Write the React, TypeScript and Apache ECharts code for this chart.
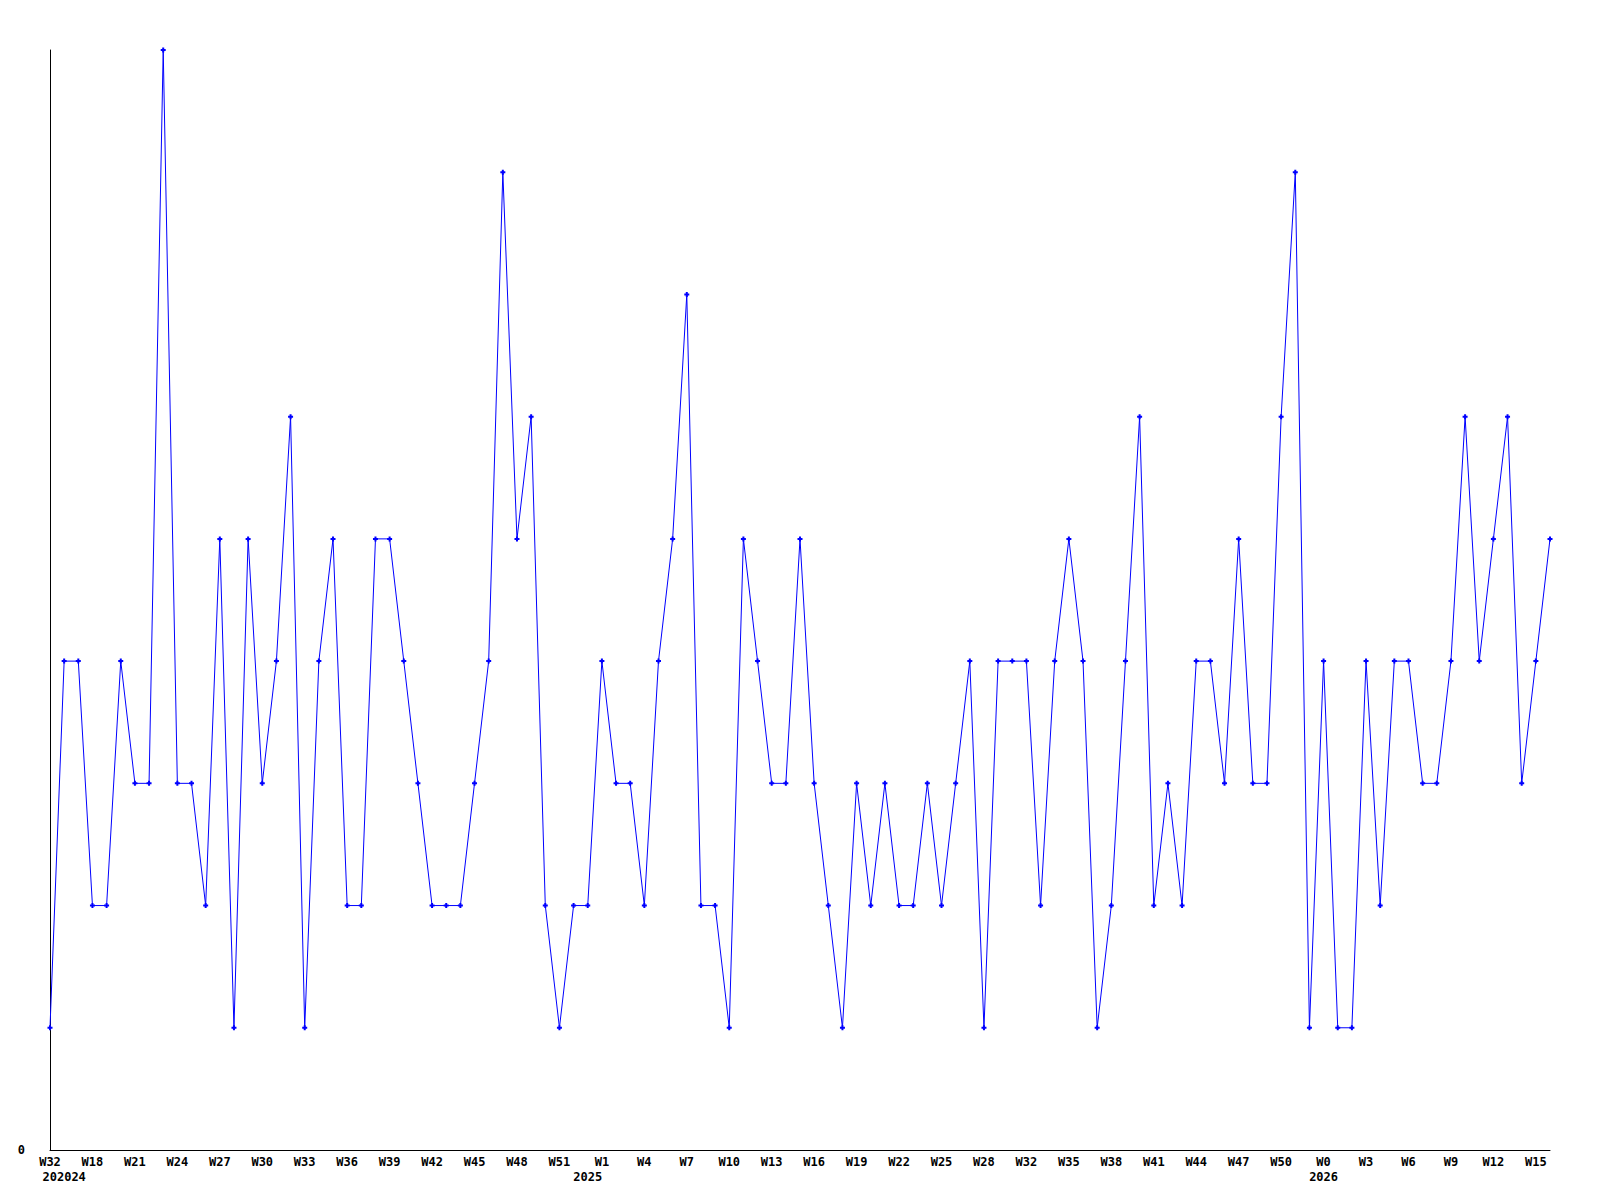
import React, { useEffect, useRef } from "react";
import * as echarts from "echarts";

const weekLabels: string[] = [
  "W32", "W16", "W17", "W18", "W19", "W20", "W21", "W22", "W23", "W24",
  "W25", "W26", "W27", "W28", "W29", "W30", "W31", "W32", "W33", "W34",
  "W35", "W36", "W37", "W38", "W39", "W40", "W41", "W42", "W43", "W44",
  "W45", "W46", "W47", "W48", "W49", "W50", "W51", "W52", "W0", "W1",
  "W2", "W3", "W4", "W5", "W6", "W7", "W8", "W9", "W10", "W11",
  "W12", "W13", "W14", "W15", "W16", "W17", "W18", "W19", "W20", "W21",
  "W22", "W23", "W24", "W25", "W26", "W27", "W28", "W30", "W31", "W32",
  "W33", "W34", "W35", "W36", "W37", "W38", "W39", "W40", "W41", "W42",
  "W43", "W44", "W45", "W46", "W47", "W48", "W49", "W50", "W51", "W52",
  "W0", "W1", "W2", "W3", "W4", "W5", "W6", "W7", "W8", "W9",
  "W10", "W11", "W12", "W13", "W14", "W15", "W16",
];

// year captions under the week labels, as printed in the source chart
const yearLabelIndex: number[] = [1, 38, 90];
const yearLabelText: string[] = ["202024", "2025", "2026"];

const values: number[] = [
  1, 4, 4, 2, 2, 4, 3, 3, 9, 3,
  3, 2, 5, 1, 5, 3, 4, 6, 1, 4,
  5, 2, 2, 5, 5, 4, 3, 2, 2, 2,
  3, 4, 8, 5, 6, 2, 1, 2, 2, 4,
  3, 3, 2, 4, 5, 7, 2, 2, 1, 5,
  4, 3, 3, 5, 3, 2, 1, 3, 2, 3,
  2, 2, 3, 2, 3, 4, 1, 4, 4, 4,
  2, 4, 5, 4, 1, 2, 4, 6, 2, 3,
  2, 4, 4, 3, 5, 3, 3, 6, 8, 1,
  4, 1, 1, 4, 2, 4, 4, 3, 3, 4,
  6, 4, 5, 6, 3, 4, 5,
];

const yMin = 0;
const yMax = 9;

export default function App() {
  const ref = useRef<HTMLDivElement>(null);
  useEffect(() => {
    if (!ref.current) return;
    const chart = echarts.init(ref.current, null, { renderer: "svg" });
    const font = "DejaVu Sans Mono";
    const labelBase = {
      color: "#000000",
      fontFamily: font,
      fontWeight: "bold",
      fontSize: 12,
      hideOverlap: false,
      showMinLabel: true,
      showMaxLabel: true,
    };
    chart.setOption({
      animation: false,
      backgroundColor: "#ffffff",
      grid: { left: 50, right: 50, top: 50, bottom: 50, containLabel: false },
      xAxis: [
        {
          type: "category",
          data: weekLabels,
          boundaryGap: false,
          position: "bottom",
          axisLine: { show: true, lineStyle: { color: "#000000", width: 1 } },
          axisTick: { show: false },
          splitLine: { show: false },
          axisLabel: {
            ...labelBase,
            margin: 6,
            interval: (idx: number) => idx % 3 === 0,
          },
        },
        {
          type: "category",
          data: weekLabels,
          boundaryGap: false,
          position: "bottom",
          axisLine: { show: false },
          axisTick: { show: false },
          splitLine: { show: false },
          axisLabel: {
            ...labelBase,
            margin: 21,
            interval: (idx: number) => yearLabelIndex.indexOf(idx) >= 0,
            formatter: (_v: string, idx: number) => {
              const k = yearLabelIndex.indexOf(idx);
              return k >= 0 ? yearLabelText[k] : "";
            },
          },
        },
      ],
      yAxis: {
        type: "value",
        min: yMin,
        max: yMax,
        interval: 1,
        axisLine: { show: true, lineStyle: { color: "#000000", width: 1 } },
        axisTick: { show: false },
        splitLine: { show: false },
        axisLabel: {
          margin: 25,
          color: "#000000",
          fontFamily: font,
          fontWeight: "bold",
          fontSize: 12,
          formatter: (v: number) => (v === 0 ? "0" : ""),
        },
      },
      series: [
        {
          type: "line",
          xAxisIndex: 0,
          data: values,
          symbol: "path://M1.5,0H3.5V1.5H5V3.5H3.5V5H1.5V3.5H0V1.5H1.5Z",
          symbolSize: 5,
          showSymbol: true,
          lineStyle: { color: "#0000ff", width: 1 },
          itemStyle: { color: "#0000ff" },
          clip: false,
        },
      ],
    });
    return () => chart.dispose();
  }, []);
  return (
    <div
      ref={ref}
      style={{ position: "absolute", left: 0, top: 0, width: 1600, height: 1200 }}
    />
  );
}
